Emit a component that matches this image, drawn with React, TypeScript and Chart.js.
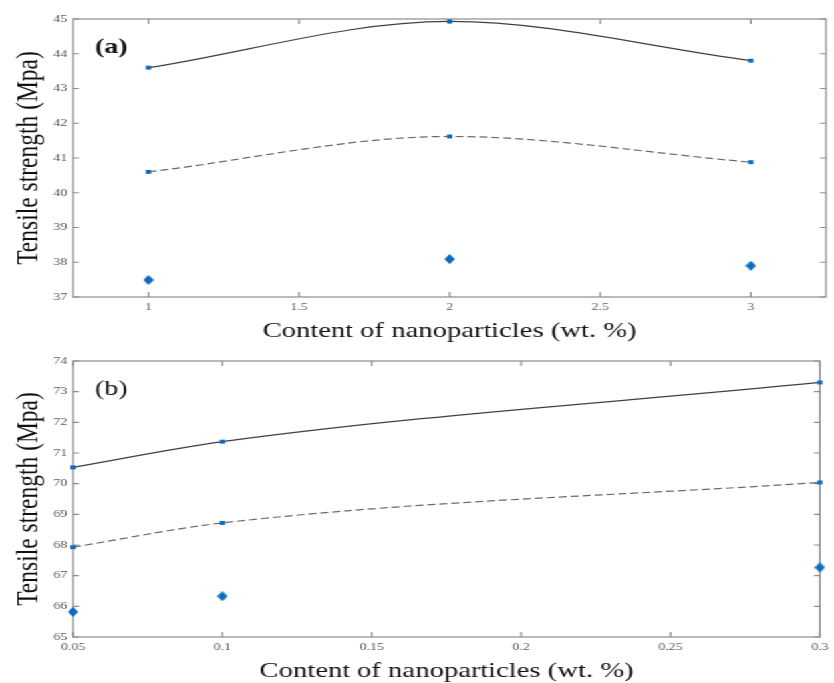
import React, { useEffect, useRef } from "react";
import { Chart, registerables } from "chart.js";

Chart.register(...registerables);

// ---------- data ----------
const xA = [1, 2, 3];
const solidA = [43.6, 44.93, 43.8];
const dashedA = [40.6, 41.62, 40.88];
const diamondA = [37.49, 38.09, 37.9];
const xTicksA = [1, 1.5, 2, 2.5, 3];
const yTicksA = [37, 38, 39, 40, 41, 42, 43, 44, 45];

const xB = [0.05, 0.1, 0.3];
const solidB = [70.53, 71.37, 73.3];
const dashedB = [67.93, 68.72, 70.04];
const diamondB = [65.82, 66.33, 67.27];
const xTicksB = [0.05, 0.1, 0.15, 0.2, 0.25, 0.3];
const yTicksB = [65, 66, 67, 68, 69, 70, 71, 72, 73, 74];

const xTitle = "Content of nanoparticles (wt. %)";
const yTitle = "Tensile strength (Mpa)";
const labelA = "(a)";
const labelB = "(b)";

// ---------- style ----------
const W = 627;
const S = 834 / W;
const SERIF = '"Liberation Serif", "Times New Roman", serif';
const BLUE = "#0b6cc0";

function makeDiamond(): HTMLCanvasElement {
  const c = document.createElement("canvas");
  c.width = 8;
  c.height = 10;
  const g = c.getContext("2d")!;
  g.fillStyle = BLUE;
  g.beginPath();
  g.moveTo(4, 0);
  g.lineTo(8, 5);
  g.lineTo(4, 10);
  g.lineTo(0, 5);
  g.closePath();
  g.fill();
  return c;
}

const panelPlugin = {
  id: "panel",
  beforeDatasetsDraw(chart: any, _args: any, opts: any) {
    const { ctx, chartArea: a, scales } = chart;
    ctx.save();
    ctx.strokeStyle = "#8c8c8c";
    ctx.lineWidth = 1.2;
    ctx.strokeRect(a.left, a.top, a.right - a.left, a.bottom - a.top);
    ctx.beginPath();
    for (const t of scales.x.ticks) {
      const px = scales.x.getPixelForValue(t.value);
      ctx.moveTo(px, a.bottom);
      ctx.lineTo(px, a.bottom - 5);
      ctx.moveTo(px, a.top);
      ctx.lineTo(px, a.top + 5);
    }
    for (const t of scales.y.ticks) {
      const py = scales.y.getPixelForValue(t.value);
      ctx.moveTo(a.left, py);
      ctx.lineTo(a.left + 4.5, py);
      ctx.moveTo(a.right, py);
      ctx.lineTo(a.right - 4.5, py);
    }
    ctx.stroke();
    ctx.fillStyle = "#111";
    ctx.font = `${opts.bold ? "bold " : ""}21px ${SERIF}`;
    ctx.textBaseline = "alphabetic";
    ctx.textAlign = "left";
    ctx.fillText(opts.label, a.left + 16.5, a.top + 34);
    ctx.restore();
  },
};

function makeConfig(p: any, diamond: HTMLCanvasElement): any {
  const pts = (ys: number[]) => p.xs.map((x: number, i: number) => ({ x, y: ys[i] }));
  const tickFont = { family: SERIF, size: 10.5 };
  return {
    type: "line",
    data: {
      datasets: [
        {
          data: pts(p.solid),
          borderColor: "#404040",
          borderWidth: 1.2,
          cubicInterpolationMode: "monotone",
          pointStyle: "rect",
          pointRadius: 2.8,
          pointBackgroundColor: BLUE,
          pointBorderWidth: 0,
          clip: false,
        },
        {
          data: pts(p.dashed),
          borderColor: "#6a6a6a",
          borderWidth: 1.2,
          borderDash: [6, 3],
          cubicInterpolationMode: "monotone",
          pointStyle: "rect",
          pointRadius: 2.8,
          pointBackgroundColor: BLUE,
          pointBorderWidth: 0,
          clip: false,
        },
        {
          data: pts(p.diamond),
          showLine: false,
          pointStyle: diamond,
          pointRadius: 5,
          clip: false,
        },
      ],
    },
    options: {
      responsive: false,
      animation: false,
      devicePixelRatio: 1,
      layout: { padding: { left: 0, right: W - 621, top: p.padTop, bottom: 0 } },
      plugins: {
        legend: { display: false },
        tooltip: { enabled: false },
        panel: { label: p.label, bold: p.bold },
      },
      scales: {
        x: {
          type: "linear",
          min: p.xMin,
          max: p.xMax,
          afterBuildTicks: (s: any) => {
            s.ticks = p.xTicks.map((v: number) => ({ value: v }));
          },
          afterFit: (s: any) => {
            s.height = p.xAxisH;
          },
          grid: { display: false, drawTicks: false },
          border: { display: false },
          ticks: {
            font: tickFont,
            color: "#5a5a5a",
            padding: 4,
            autoSkip: false,
            maxRotation: 0,
            minRotation: 0,
            callback: (v: number) => String(v),
          },
          title: {
            display: true,
            text: xTitle,
            color: "#111",
            font: { family: SERIF, size: 21.5 },
            padding: { top: 0, bottom: p.xTitlePad },
          },
        },
        y: {
          type: "linear",
          min: p.yMin,
          max: p.yMax,
          afterBuildTicks: (s: any) => {
            s.ticks = p.yTicks.map((v: number) => ({ value: v }));
          },
          afterFit: (s: any) => {
            s.width = 55;
          },
          grid: { display: false, drawTicks: false },
          border: { display: false },
          ticks: {
            font: tickFont,
            color: "#5a5a5a",
            padding: 4.5,
            autoSkip: false,
            callback: (v: number) => String(v),
          },
          title: {
            display: true,
            text: yTitle,
            color: "#111",
            font: { family: SERIF, size: 23.5 },
            padding: { top: 7.5, bottom: 0 },
          },
        },
      },
    },
    plugins: [panelPlugin],
  };
}

export default function App() {
  const refA = useRef<HTMLCanvasElement>(null);
  const refB = useRef<HTMLCanvasElement>(null);

  useEffect(() => {
    const diamond = makeDiamond();
    const a = new Chart(
      refA.current!,
      makeConfig(
        {
          xs: xA, solid: solidA, dashed: dashedA, diamond: diamondA,
          xTicks: xTicksA, yTicks: yTicksA,
          xMin: 0.75, xMax: 3.25, yMin: 37, yMax: 45,
          padTop: 19, xAxisH: 53, xTitlePad: 5.4,
          label: labelA, bold: true,
        },
        diamond
      )
    );
    const b = new Chart(
      refB.current!,
      makeConfig(
        {
          xs: xB, solid: solidB, dashed: dashedB, diamond: diamondB,
          xTicks: xTicksB, yTicks: yTicksB,
          xMin: 0.05, xMax: 0.3, yMin: 65, yMax: 74,
          padTop: 21, xAxisH: 63, xTitlePad: 15.4,
          label: labelB, bold: false,
        },
        diamond
      )
    );
    return () => {
      a.destroy();
      b.destroy();
    };
  }, []);

  return (
    <div
      style={{
        position: "fixed",
        left: 0,
        top: 0,
        width: 834,
        height: 683,
        overflow: "hidden",
        background: "#fff",
      }}
    >
      <div
        style={{
          position: "absolute",
          left: 0,
          top: 0,
          width: W,
          height: 683,
          transform: `scaleX(${S})`,
          transformOrigin: "0 0",
        }}
      >
        <canvas ref={refA} width={W} height={350} style={{ position: "absolute", left: 0, top: 0 }} />
        <canvas ref={refB} width={W} height={360} style={{ position: "absolute", left: 0, top: 340 }} />
      </div>
    </div>
  );
}
